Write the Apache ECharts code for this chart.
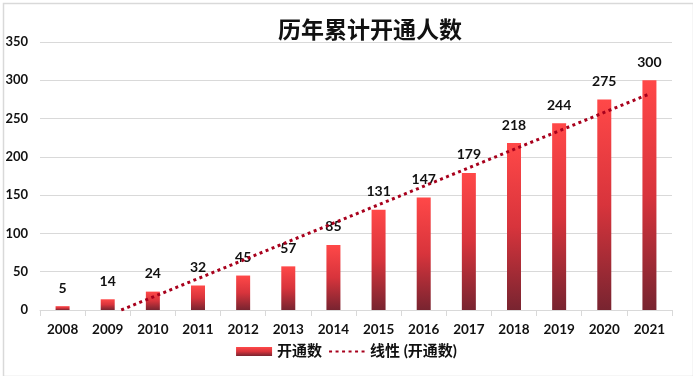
<!DOCTYPE html>
<html>
<head>
<meta charset="utf-8">
<script src="https://cdn.jsdelivr.net/npm/echarts@6/dist/echarts.min.js"></script>
<style>
html,body{margin:0;padding:0;background:#fff;}
#chart{width:693px;height:376px;}
</style>
</head>
<body>
<div id="chart"></div>
<script>
var titleText = '历年累计开通人数';
var years = ['2008','2009','2010','2011','2012','2013','2014','2015','2016','2017','2018','2019','2020','2021'];
var counts = [5, 14, 24, 32, 45, 57, 85, 131, 147, 179, 218, 244, 275, 300];
var seriesName = '开通数';
var trendName = '线性 (开通数)';

// Linear trendline (least squares on category index 1..n), as in the source chart
function linearTrend(vals) {
  var n = vals.length, sx = 0, sy = 0, sxy = 0, sxx = 0;
  for (var i = 0; i < n; i++) { var x = i + 1; sx += x; sy += vals[i]; sxy += x * vals[i]; sxx += x * x; }
  var slope = (n * sxy - sx * sy) / (n * sxx - sx * sx);
  var icpt = (sy - slope * sx) / n;
  var x0 = Math.max(1, -icpt / slope);
  return [[x0, Math.max(0, icpt + slope * x0)], [n, icpt + slope * n]];
}
var trendPts = linearTrend(counts);

var fontLat = 'Lato, "Noto Sans CJK SC", sans-serif';
var trendColor = '#a8001c';
var chart = echarts.init(document.getElementById('chart'), null, {renderer: 'canvas'});
chart.setOption({
  animation: false,
  backgroundColor: '#fff',
  title: {
    text: titleText,
    left: 365, top: 13, textAlign: 'center',
    textStyle: {fontFamily: '"Noto Sans CJK SC", sans-serif', fontSize: 23, fontWeight: 'bold', color: '#111'}
  },
  graphic: [{
    type: 'rect', left: 1, top: 1,
    shape: {width: 690, height: 373},
    style: {fill: 'none', stroke: '#d9d9d9', lineWidth: 1.5}, silent: true
  }],
  legend: {
    bottom: 12, left: 'center',
    itemWidth: 36, itemHeight: 9, itemGap: 6,
    textStyle: {fontFamily: fontLat, fontSize: 15, fontWeight: 'bold', color: '#111'},
    data: [
      {name: seriesName, icon: 'rect'},
      {name: trendName, itemStyle: {opacity: 0, borderWidth: 0}}
    ]
  },
  grid: {left: 40, right: 21, top: 42, bottom: 66},
  xAxis: [{
    type: 'category', data: years, boundaryGap: true,
    axisLine: {lineStyle: {color: '#d9d9d9', width: 1}},
    axisTick: {show: true, length: 6, lineStyle: {color: '#d9d9d9'}},
    axisLabel: {margin: 13, fontFamily: fontLat, fontSize: 13.5, fontWeight: 'bold', color: '#111'}
  }, {
    type: 'value', min: 0.5, max: 14.5, show: false
  }],
  yAxis: {
    type: 'value', min: 0, max: 350, interval: 50,
    axisLine: {show: false}, axisTick: {show: false},
    splitLine: {lineStyle: {color: '#d9d9d9', width: 1}},
    axisLabel: {margin: 12, fontFamily: fontLat, fontSize: 13, fontWeight: 'bold', color: '#111'}
  },
  series: [{
    name: seriesName, type: 'bar', data: counts, barWidth: 14,
    itemStyle: {
      color: new echarts.graphic.LinearGradient(0, 0, 0, 1, [
        {offset: 0, color: '#ff4848'},
        {offset: 0.5, color: '#d8343c'},
        {offset: 1, color: '#782430'}
      ])
    },
    label: {
      show: true, position: 'top', distance: 11,
      fontFamily: fontLat, fontSize: 14, fontWeight: 'bold', color: '#111'
    }
  }, {
    name: trendName, type: 'line', xAxisIndex: 1, data: trendPts,
    symbol: 'none', showSymbol: false, z: 5,
    lineStyle: {color: trendColor, width: 3, type: [3, 3.5], cap: 'butt'},
    itemStyle: {color: trendColor}
  }]
});
</script>
</body>
</html>
